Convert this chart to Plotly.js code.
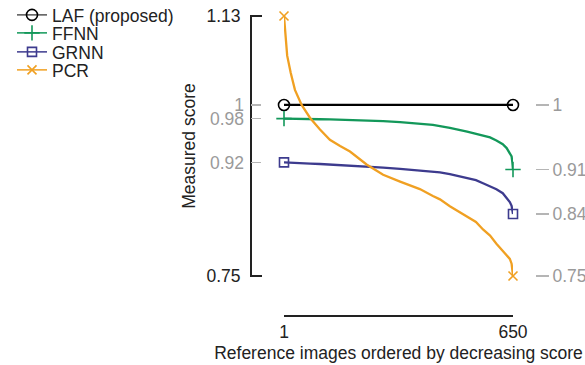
<!DOCTYPE html>
<html><head><meta charset="utf-8">
<script src="https://cdn.plot.ly/plotly-3.0.1.min.js"></script>
<style>html,body{margin:0;padding:0;background:#fff}#chart{width:585px;height:365px}</style>
</head><body><div id="chart"></div>
<script>
// Rank of reference image (ordered by decreasing score)
const ranks = [1, 7, 10, 20, 32, 51, 75, 103, 131, 160, 188, 235, 282, 330, 386, 423, 443, 471, 520, 545, 565, 585, 603, 621, 632, 641, 646, 648, 650];
const lafScore  = [1, 1, 1, 1, 1, 1, 1, 1, 1, 1, 1, 1, 1, 1, 1, 1, 1, 1, 1, 1, 1, 1, 1, 1, 1, 1, 1, 1, 1];
const ffnnScore = [0.980, 0.980, 0.980, 0.9799, 0.9798, 0.9796, 0.9794, 0.9791, 0.9788, 0.9784, 0.978, 0.9773, 0.9763, 0.9748, 0.9728, 0.9708, 0.969, 0.9665, 0.961, 0.958, 0.9555, 0.9525, 0.948, 0.9425, 0.937, 0.930, 0.9249, 0.917, 0.9056];
const grnnScore = [0.916, 0.9158, 0.9157, 0.9155, 0.9152, 0.9148, 0.9143, 0.9137, 0.913, 0.9122, 0.9114, 0.910, 0.9085, 0.9065, 0.9045, 0.9032, 0.9015, 0.8988, 0.8936, 0.890, 0.8855, 0.881, 0.8767, 0.871, 0.8646, 0.858, 0.8525, 0.8477, 0.8405];
const pcrScore  = [1.13, 1.097, 1.072, 1.047, 1.022, 1.000, 0.981, 0.964, 0.949, 0.940, 0.932, 0.913, 0.898, 0.888, 0.877, 0.867, 0.862, 0.852, 0.837, 0.829, 0.818, 0.809, 0.797, 0.787, 0.781, 0.775, 0.768, 0.762, 0.75];

const seriesNames = ['LAF (proposed)', 'FFNN', 'GRNN', 'PCR'];
const seriesValues = [lafScore, ffnnScore, grnnScore, pcrScore];
const colors = ['#000000', '#13985a', '#3d3b8e', '#f0a022'];
const legendLineColors = ['#555555', '#13985a', '#3d3b8e', '#f0a022'];
const symbols = ['circle-open', 'cross-thin-open', 'square-open', 'x-thin-open'];
const markerSizes = [11, 11, 9, 9];
const yLimits = [0.75, 1.13];
const xTitle = 'Reference images ordered by decreasing score';
const yTitle = 'Measured score';

const FONT = 'Liberation Sans, Arial, Helvetica, sans-serif';
const fmt = v => String(+v.toFixed(2));
const last = a => a[a.length - 1];
// tiny pad so that the end ticks are not dropped by plotly
const yRange = [yLimits[0] - 0.0015, yLimits[1] + 0.0015];

const traces = [];
// curves: first three on base y, PCR on y2 (same scale, drawn on top)
seriesValues.forEach((vals, i) => {
  traces.push({
    x: ranks, y: vals, type: 'scatter', mode: 'lines',
    line: {color: colors[i], width: 2.3},
    yaxis: i === 3 ? 'y2' : 'y',
    showlegend: false, hoverinfo: 'skip', legendgroup: 'g' + i
  });
});
// end markers (also legend entries)
const legendIds = ['legend', 'legend2', 'legend3', 'legend4'];
seriesValues.forEach((vals, i) => {
  traces.push({
    x: [ranks[0], null, last(ranks)], y: [vals[0], null, last(vals)],
    type: 'scatter', mode: 'lines+markers', name: seriesNames[i],
    line: {color: legendLineColors[i], width: 1.5},
    marker: {symbol: symbols[i], size: markerSizes[i], color: colors[i], line: {color: colors[i], width: 1.6}},
    cliponaxis: false, yaxis: i < 2 ? 'y3' : 'y4', legend: legendIds[i], legendgroup: 'g' + i,
    hoverinfo: 'skip'
  });
});

const leftGray = seriesValues.map(v => v[0]).filter(v => v !== yLimits[1] && v !== yLimits[0]);
const rightVals = seriesValues.map(v => last(v));

const hidden = {showline: false, showgrid: false, zeroline: false, ticks: '', showticklabels: false};
const legendCenters = [15, 33, 52, 70];
const layout = {
  width: 585, height: 365,
  margin: {l: 250, r: 50, t: 15, b: 50, pad: 0},
  paper_bgcolor: '#fff', plot_bgcolor: 'rgba(0,0,0,0)',
  font: {family: FONT, size: 17.5, color: '#222'},
  hovermode: false,
  showlegend: true,
  xaxis: {
    domain: [0.1193, 0.9228], range: [ranks[0], last(ranks)], anchor: 'free', position: 0,
    showline: true, linecolor: '#222', linewidth: 1.5, showgrid: false, zeroline: false,
    ticks: 'inside', ticklen: 10, tickwidth: 1.5, tickcolor: '#222',
    tickvals: [ranks[0], last(ranks)], tickfont: {size: 17.5, color: '#222'},
    title: {text: xTitle, font: {size: 17.5, color: '#222'}, standoff: 6}, automargin: false
  },
  yaxis: Object.assign({domain: [0.1267, 1], range: yRange, anchor: 'free', position: 0, automargin: false}, hidden),
  yaxis2: {
    overlaying: 'y', range: yRange, anchor: 'free', position: 0, side: 'left',
    showline: true, linecolor: '#222', linewidth: 1.5, showgrid: false, zeroline: false,
    ticks: 'inside', ticklen: 10, tickwidth: 1.5, tickcolor: '#222',
    tickvals: yLimits, ticktext: yLimits.map(fmt), tickfont: {size: 17.5, color: '#222'},
    ticklabelstandoff: 6,
    title: {text: yTitle, font: {size: 17.5, color: '#222'}, standoff: 8}, automargin: false
  },
  yaxis3: {
    overlaying: 'y', range: yRange, anchor: 'free', position: 0, side: 'left',
    showline: false, showgrid: false, zeroline: false,
    ticks: 'inside', ticklen: 10, tickwidth: 1.5, tickcolor: '#b5b5b5',
    tickvals: leftGray, ticktext: leftGray.map(fmt), tickfont: {size: 17.5, color: '#9a9a9a'},
    ticklabelstandoff: 6, automargin: false
  },
  yaxis4: {
    overlaying: 'y', range: yRange, anchor: 'free', position: 1, side: 'right',
    showline: false, showgrid: false, zeroline: false,
    ticks: 'outside', ticklen: 13, tickwidth: 1.5, tickcolor: '#b5b5b5',
    tickvals: rightVals, ticktext: rightVals.map(fmt), tickfont: {size: 17.5, color: '#9a9a9a'},
    automargin: false
  }
};
legendIds.forEach((id, i) => {
  layout[id] = {
    xref: 'container', yref: 'container', x: 12 / 585, y: 1 - legendCenters[i] / 365,
    xanchor: 'left', yanchor: 'middle', bgcolor: 'rgba(0,0,0,0)', borderwidth: 0,
    font: {family: FONT, size: 17.5, color: '#222'}, itemclick: false, itemdoubleclick: false
  };
});

Plotly.newPlot('chart', traces, layout, {staticPlot: true, displayModeBar: false});
</script></body></html>
